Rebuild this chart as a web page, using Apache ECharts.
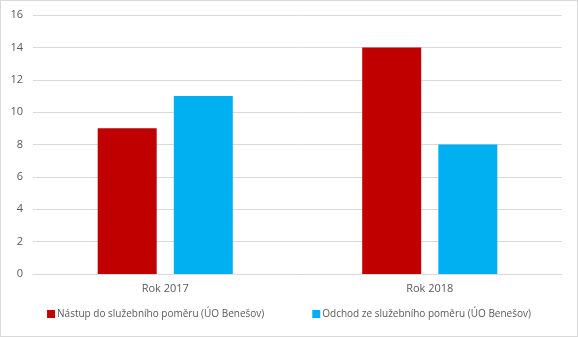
<!DOCTYPE html>
<html><head><meta charset="utf-8">
<script src="https://cdn.jsdelivr.net/npm/echarts@6/dist/echarts.min.js"></script>
<style>html,body{margin:0;padding:0;background:#fff}#c{width:578px;height:337px;box-sizing:border-box;border:1px solid #d9d9d9}</style>
</head><body><div id="c"></div>
<script>
const categories = ["Rok 2017", "Rok 2018"];
const seriesNames = ["Nástup do služebního poměru (ÚO Benešov)", "Odchod ze služebního poměru (ÚO Benešov)"];
const nastup = [9, 14];
const odchod = [11, 8];
const colors = ["#c00000", "#00b0f0"];
const chart = echarts.init(document.getElementById('c'), null, {renderer: 'canvas'});
const font = "'Open Sans', 'Liberation Sans', sans-serif";
chart.setOption({
  animation: false,
  textStyle: {fontFamily: font},
  grid: {left: 32, right: 15, top: 14, bottom: 62},
  legend: {
    bottom: 12, left: 'center', itemWidth: 8, itemHeight: 8, itemGap: 48,
    icon: 'rect',
    textStyle: {color: '#595959', fontSize: 10, fontFamily: font, padding: [0,0,0,-3]},
    data: seriesNames
  },
  xAxis: {
    type: 'category', data: categories,
    axisLine: {lineStyle: {color: '#d9d9d9'}},
    axisTick: {show: false},
    axisLabel: {color: '#595959', fontSize: 11, margin: 9, fontFamily: font}
  },
  yAxis: {
    type: 'value', min: 0, max: 16, interval: 2,
    axisLine: {show: false}, axisTick: {show: false},
    splitLine: {lineStyle: {color: '#d9d9d9'}},
    axisLabel: {color: '#595959', fontSize: 11, margin: 10, fontFamily: font}
  },
  series: [
    {name: seriesNames[0], type: 'bar', data: nastup, barWidth: 59, barGap: '29%', itemStyle: {color: colors[0]}},
    {name: seriesNames[1], type: 'bar', data: odchod, barWidth: 59, barGap: '29%', itemStyle: {color: colors[1]}}
  ]
});
</script></body></html>
